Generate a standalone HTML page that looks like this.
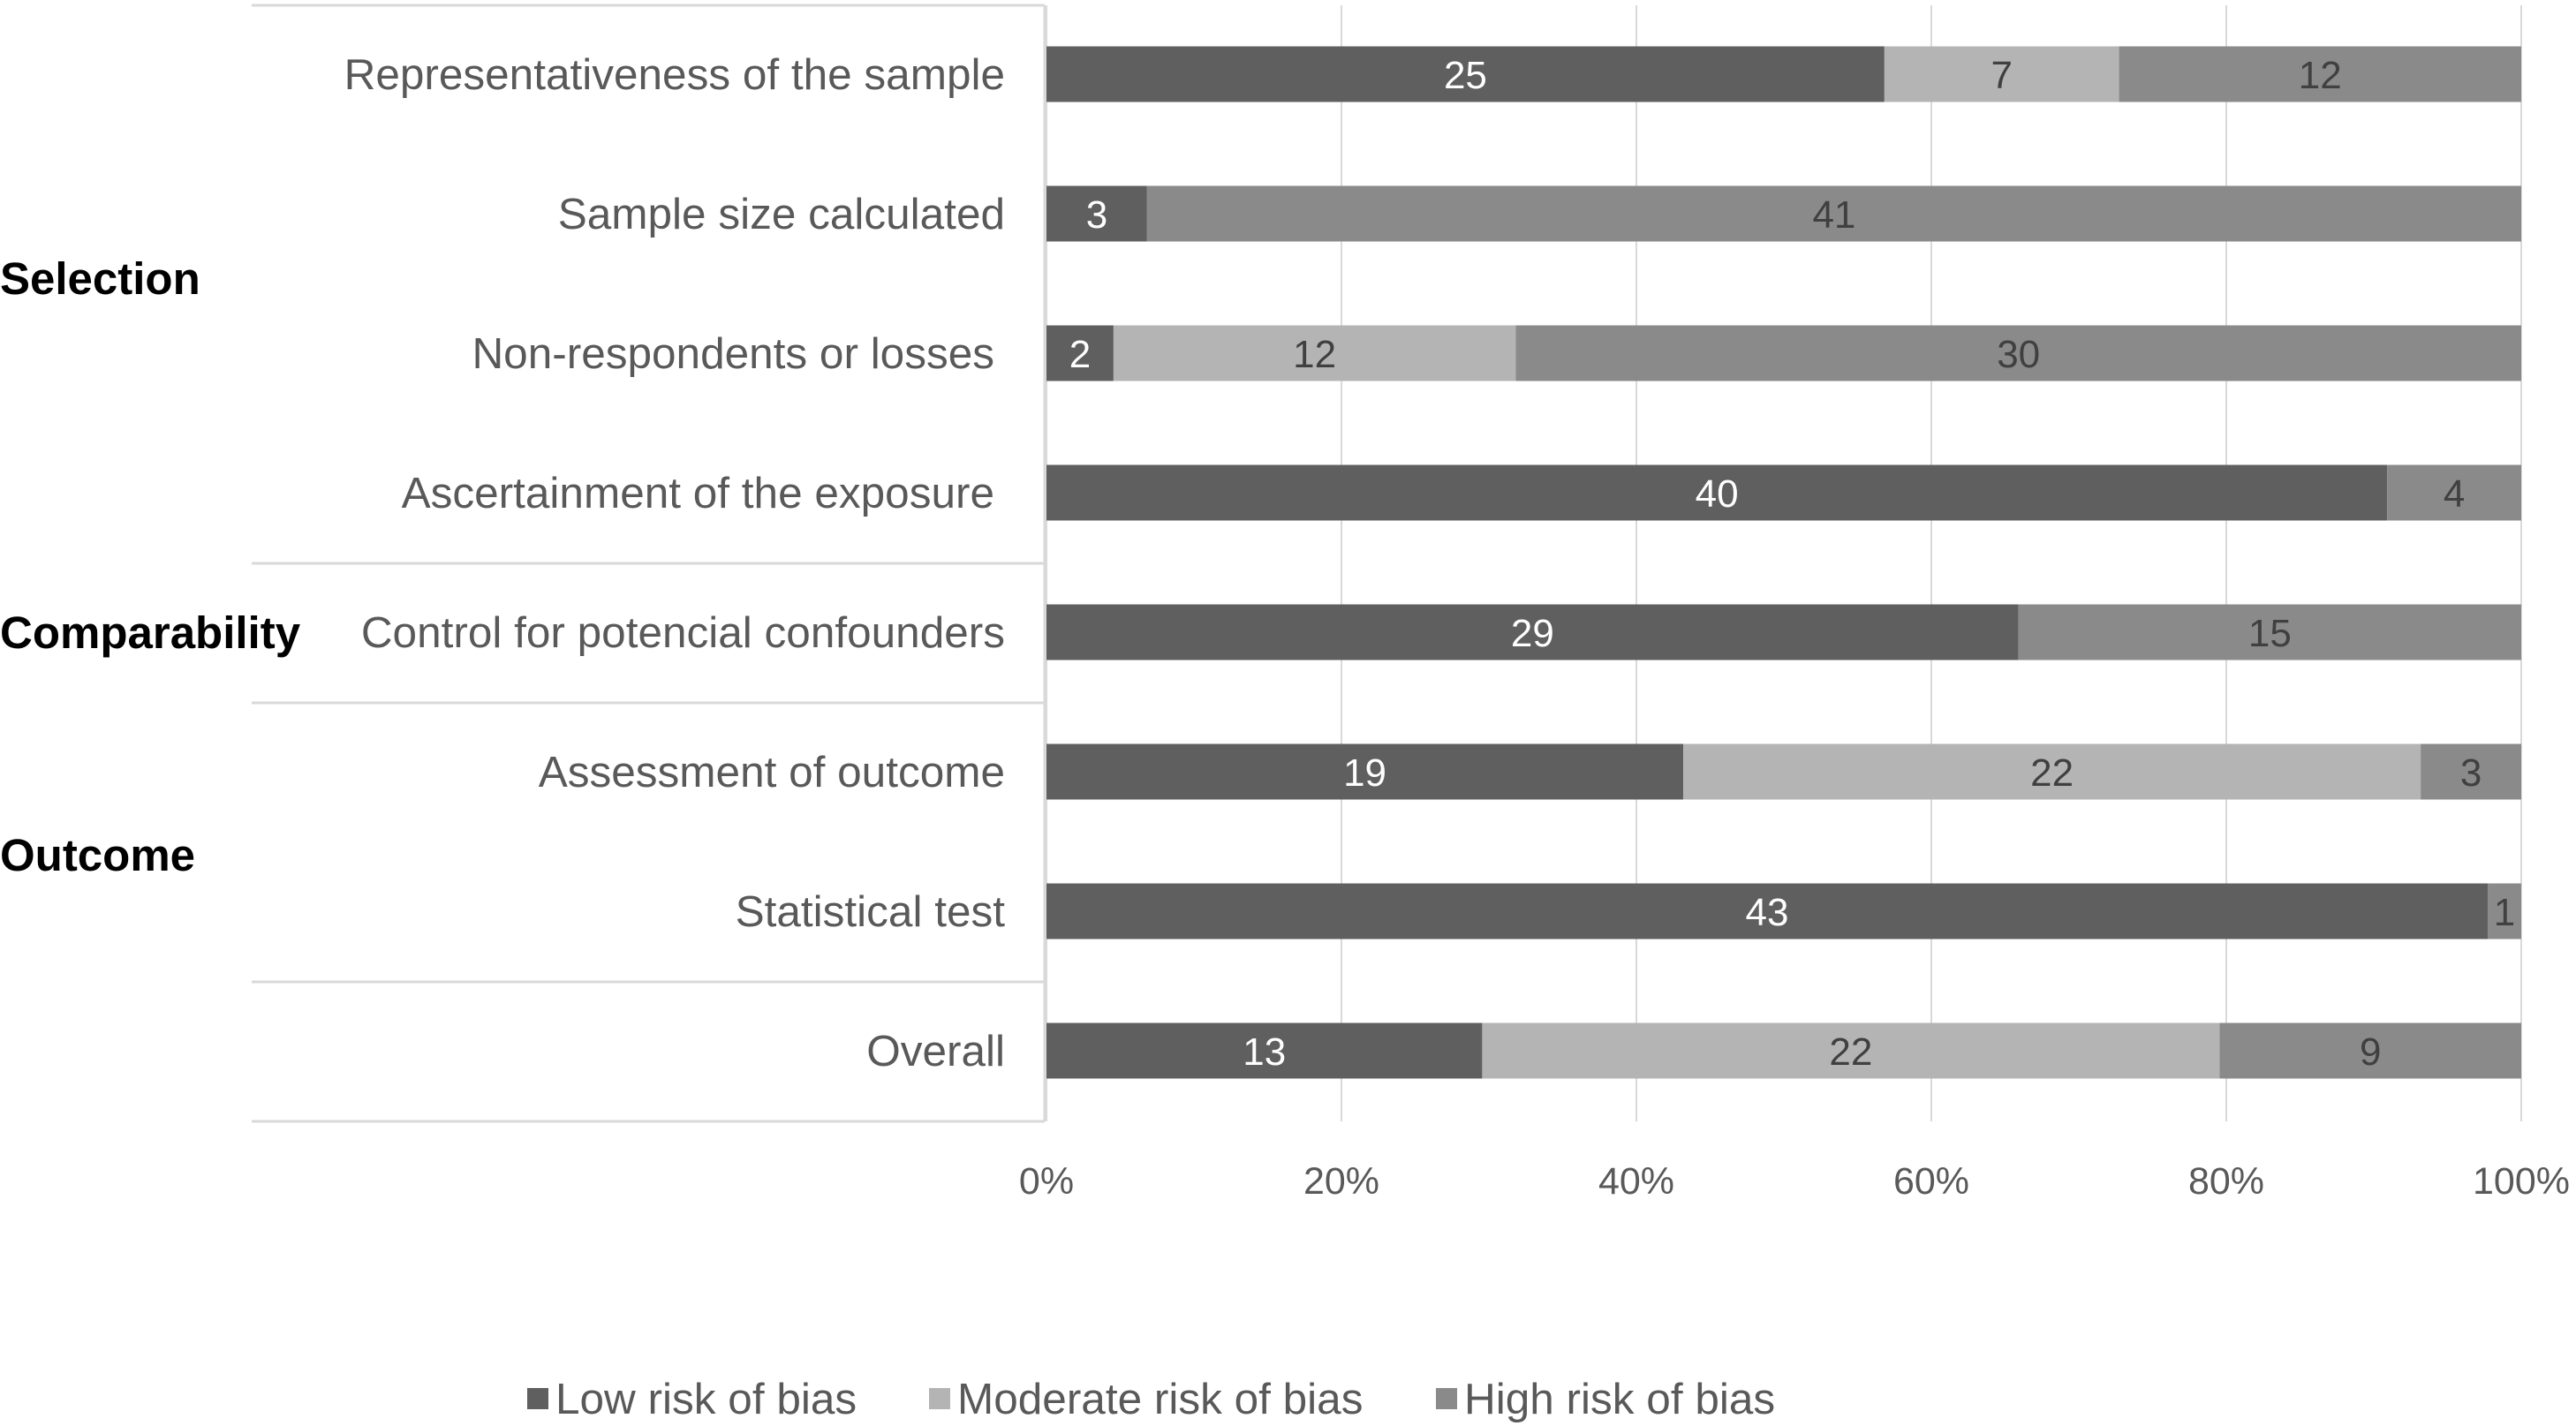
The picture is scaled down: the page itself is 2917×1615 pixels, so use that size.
<!DOCTYPE html>
<html><head><meta charset="utf-8"><style>
html,body{margin:0;padding:0;background:#fff;}
svg{display:block;font-family:"Liberation Sans",sans-serif;}
</style></head><body>
<svg id="chart" width="2917" height="1615" viewBox="0 0 2917 1615" xmlns="http://www.w3.org/2000/svg">
<g id="frame"></g>
<g id="grid"></g>
<g id="bars"></g>
<g id="labels"></g>
<g id="ticks"></g>
<g id="legend"></g>
</svg>
<script>
const categories = ["Representativeness of the sample","Sample size calculated","Non-respondents or losses ","Ascertainment of the exposure ","Control for potencial confounders","Assessment of outcome","Statistical test","Overall"];
const lowRisk = [25,3,2,40,29,19,43,13];
const moderateRisk = [7,0,12,0,0,22,0,22];
const highRisk = [12,41,30,4,15,3,1,9];
const seriesNames = ["Low risk of bias","Moderate risk of bias","High risk of bias"];
const tickLabels = ["0%","20%","40%","60%","80%","100%"];
const tickValues = [0,0.2,0.4,0.6,0.8,1];
const groups = ["Selection","Comparability","Outcome"];
const groupRows = [[0,3],[4,4],[5,6]];

const NS="http://www.w3.org/2000/svg";
const X0=1185, X1=2855, Y0=84, STEP=158, BH=63;
const colors=["#5f5f5f","#b4b4b4","#8a8a8a"];
const textCol=["#ffffff","#404040","#404040"];
const groupOffset=[-6,0,15];
const xs=v=>X0+(X1-X0)*v;
const ys=i=>Y0+STEP*i;
function mk(tag,attrs,parent){const e=document.createElementNS(NS,tag);for(const k in attrs)e.setAttribute(k,attrs[k]);parent.appendChild(e);return e;}

const frame=document.getElementById('frame');
const sepYs=[6,638,796,1112,1270];
sepYs.forEach(y=>{const l=mk('line',{x1:285,x2:1183,y1:y,y2:y,stroke:'#d9d9d9','stroke-width':3},frame);

});
const vl=mk('line',{x1:1183,x2:1183,y1:6,y2:1270,stroke:'#d9d9d9','stroke-width':3},frame);



const grid=document.getElementById('grid');
tickValues.forEach(v=>{const l=mk('line',{x1:xs(v),x2:xs(v),y1:6,y2:1270,stroke:'#d9d9d9','stroke-width':2},grid);

});

const bars=document.getElementById('bars');
const series=[lowRisk,moderateRisk,highRisk];
categories.forEach((c,i)=>{
  const tot=lowRisk[i]+moderateRisk[i]+highRisk[i];
  let acc=0;
  series.forEach((s,k)=>{
    const v=s[i]; if(!v) return;
    const xa=xs(acc/tot), xb=xs((acc+v)/tot);
    const r=mk('rect',{x:xa,y:ys(i)-BH/2,width:xb-xa,height:BH,fill:colors[k]},bars);
    
    
    const t=mk('text',{x:(xa+xb)/2,y:ys(i)+16,'text-anchor':'middle','font-size':44,fill:textCol[k]},bars);
    t.textContent=v;
    
    
    acc+=v;
  });
});

const labels=document.getElementById('labels');
categories.forEach((c,i)=>{
  const t=mk('text',{x:1138,y:ys(i)+17,'text-anchor':'end','font-size':49.5,fill:'#595959'},labels);
  t.textContent=c.trim();
  if(c.endsWith(' ')) t.setAttribute('x',1126);
  
  
});
groups.forEach((g,j)=>{
  const [a,b]=groupRows[j];
  const t=mk('text',{x:0,y:(ys(a)+ys(b))/2+18+groupOffset[j],'font-size':51,'font-weight':'bold',fill:'#000'},labels);
  t.textContent=g;
  
  
});

const ticks=document.getElementById('ticks');
tickValues.forEach((v,i)=>{
  const t=mk('text',{x:xs(v),y:1352,'text-anchor':'middle','font-size':43,fill:'#595959'},ticks);
  t.textContent=tickLabels[i];
  
  
});

const legend=document.getElementById('legend');
const legX=[597,1052,1626];
seriesNames.forEach((n,k)=>{
  const r=mk('rect',{x:legX[k],y:1572,width:24,height:24,fill:colors[k]},legend);
  
  
  const t=mk('text',{x:legX[k]+32,y:1601,'font-size':49.5,fill:'#595959'},legend);
  t.textContent=n;
  
  
});
</script>
</body></html>
